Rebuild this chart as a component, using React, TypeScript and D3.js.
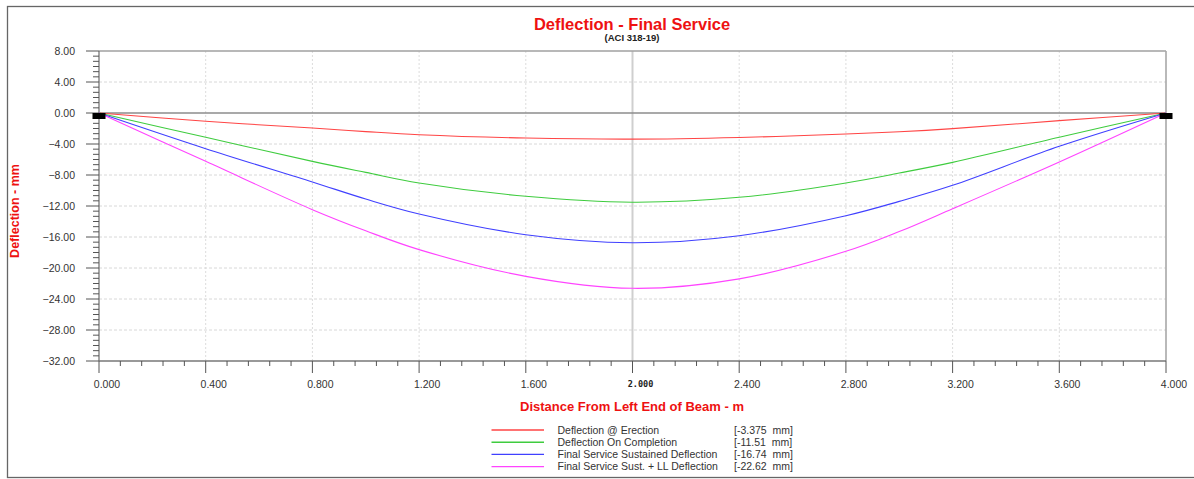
import React from 'react';
import * as d3 from 'd3';

// ---- Data ----
const distances = [0, 0.4, 0.8, 1.0, 1.2, 1.6, 2.0, 2.4, 2.8, 3.0, 3.2, 3.6, 4.0];
const erection = [0, -1.07, -1.94, -2.40, -2.80, -3.23, -3.375, -3.16, -2.71, -2.42, -2.02, -0.99, 0];
const completion = [0, -3.14, -6.24, -7.66, -9.03, -10.75, -11.51, -10.88, -9.03, -7.75, -6.37, -3.13, 0];
const sustained = [0, -4.6, -8.9, -11.1, -13.03, -15.7, -16.74, -15.83, -13.25, -11.4, -9.33, -4.3, 0];
const sustainedLL = [0, -6.24, -12.47, -15.2, -17.63, -21.08, -22.62, -21.4, -17.85, -15.3, -12.35, -6.32, 0];

const seriesNames = [
  'Deflection @ Erection',
  'Deflection On Completion',
  'Final Service Sustained Deflection',
  'Final Service Sust. + LL Deflection',
];
const seriesMaxLabels = ['[-3.375  mm]', '[-11.51  mm]', '[-16.74  mm]', '[-22.62  mm]'];
const seriesColors = ['#ff4545', '#3fcc3f', '#4040ff', '#ff44ff'];

const yTicks = [8, 4, 0, -4, -8, -12, -16, -20, -24, -28, -32];
const xTicks = [0, 0.4, 0.8, 1.2, 1.6, 2.0, 2.4, 2.8, 3.2, 3.6, 4.0];

const FONT = "'Liberation Sans', Arial, sans-serif";

export default function App() {
  const W = 1194;
  const H = 479;
  const left = 99, right = 1166, top = 51, bottom = 361;
  const x = d3.scaleLinear().domain([0, 4]).range([left, right]);
  const y = d3.scaleLinear().domain([-32, 8]).range([bottom, top]);

  const allSeries = [erection, completion, sustained, sustainedLL];
  const line = d3
    .line<number>()
    .x((_, i) => x(distances[i]))
    .y((d) => y(d))
    .curve(d3.curveCatmullRom.alpha(0.5));

  // minor ticks
  const xMinor: number[] = [];
  for (let i = 0; i <= 50; i++) {
    const v = i * 0.08;
    if (i % 5 !== 0) xMinor.push(v);
  }
  const yMinor: number[] = [];
  for (let k = 0; k < yTicks.length - 1; k++) {
    const a = yTicks[k], b = yTicks[k + 1];
    for (let j = 1; j < 6; j++) yMinor.push(a + ((b - a) * j) / 6);
  }

  return (
    <svg
      width={W}
      height={H}
      style={{ position: 'absolute', left: 0, top: 0, background: '#fff' }}
      fontFamily={FONT}
    >
      <rect x={0} y={0} width={W} height={H} fill="#fff" />
      {/* outer frame */}
      <rect x={7.5} y={6.5} width={1200} height={471} fill="none" stroke="#666" strokeWidth={1.3} />

      {/* title */}
      <text x={632} y={30} textAnchor="middle" fill="#ee1111" fontSize={16.5} fontWeight="bold">
        Deflection - Final Service
      </text>
      <text x={632} y={40.5} textAnchor="middle" fill="#222" fontSize={9.5} fontWeight="bold">
        (ACI 318-19)
      </text>

      {/* grid */}
      {yTicks.filter((t) => t !== 0 && t !== 8 && t !== -32).map((t) => (
        <line key={'gy' + t} x1={left} x2={right} y1={y(t)} y2={y(t)} stroke="#d8d8d8" strokeWidth={1} strokeDasharray="3,2" />
      ))}
      {xTicks.filter((t) => t !== 0 && t !== 4 && t !== 2).map((t) => (
        <line key={'gx' + t} x1={x(t)} x2={x(t)} y1={top} y2={bottom} stroke="#dcdcdc" strokeWidth={1} strokeDasharray="2,2" />
      ))}
      {/* mid-span line */}
      <line x1={x(2)} x2={x(2)} y1={top} y2={bottom} stroke="#cfcfcf" strokeWidth={2} />
      {/* zero line */}
      <line x1={left} x2={right} y1={y(0)} y2={y(0)} stroke="#8c8c8c" strokeWidth={1.3} />

      {/* plot border */}
      <line x1={left} x2={right} y1={top} y2={top} stroke="#a0a0a0" strokeWidth={1.3} />
      <line x1={right} x2={right} y1={top} y2={bottom} stroke="#a8a8a8" strokeWidth={1.6} />
      <line x1={left} x2={left} y1={top} y2={bottom} stroke="#777" strokeWidth={1.3} />
      <line x1={left} x2={right} y1={bottom} y2={bottom} stroke="#777" strokeWidth={1.3} />

      {/* y ticks */}
      {yTicks.map((t) => (
        <g key={'yt' + t}>
          <line x1={left - 13} x2={left} y1={y(t)} y2={y(t)} stroke="#555" strokeWidth={1} />
          <text x={75} y={y(t)} dy="0.35em" textAnchor="end" fontSize={10.5} fill="#333">
            {d3.format('.2f')(t)}
          </text>
        </g>
      ))}
      {yMinor.map((t, i) => (
        <line key={'ym' + i} x1={left - 6} x2={left} y1={y(t)} y2={y(t)} stroke="#555" strokeWidth={1} />
      ))}

      {/* x ticks */}
      {xTicks.map((t) => (
        <g key={'xt' + t}>
          <line x1={x(t)} x2={x(t)} y1={bottom} y2={bottom + 12} stroke="#555" strokeWidth={1} />
          {t === 2 ? (
            <text x={x(t) + 8} y={384} dy="0.35em" textAnchor="middle" fontSize={8.5} fontWeight="bold" fill="#222" fontFamily="'DejaVu Sans Mono', monospace">
              {d3.format('.3f')(t)}
            </text>
          ) : (
            <text x={x(t) + 8} y={384} dy="0.35em" textAnchor="middle" fontSize={10.5} fill="#333">
              {d3.format('.3f')(t)}
            </text>
          )}
        </g>
      ))}
      {xMinor.map((t, i) => (
        <line key={'xm' + i} x1={x(t)} x2={x(t)} y1={bottom} y2={bottom + 5} stroke="#555" strokeWidth={1} />
      ))}

      {/* axis titles */}
      <text x={632} y={411} textAnchor="middle" fill="#ee1111" fontSize={13} fontWeight="bold">
        Distance From Left End of Beam - m
      </text>
      <text
        transform={`translate(19, 211) rotate(-90)`}
        textAnchor="middle"
        fill="#ee1111"
        fontSize={12.5}
        fontWeight="bold"
      >
        Deflection - mm
      </text>

      {/* series */}
      {allSeries.map((s, i) => (
        <path key={'s' + i} d={line(s) || ''} fill="none" stroke={seriesColors[i]} strokeWidth={1.1} />
      ))}

      {/* supports */}
      <rect x={x(0) - 6.5} y={y(0)} width={13} height={6} fill="#000" />
      <rect x={x(4) - 6.5} y={y(0)} width={13} height={6} fill="#000" />

      {/* legend */}
      {seriesNames.map((n, i) => {
        const ly = 430 + i * 12.2;
        return (
          <g key={'lg' + i}>
            <line x1={491.5} x2={544} y1={ly} y2={ly} stroke={seriesColors[i]} strokeWidth={1.4} />
            <text x={557.5} y={ly} dy="0.35em" fontSize={10.5} fill="#333">
              {n}
            </text>
            <text x={734} y={ly} dy="0.35em" fontSize={10.5} fill="#333" style={{ whiteSpace: 'pre' }}>
              {seriesMaxLabels[i]}
            </text>
          </g>
        );
      })}
    </svg>
  );
}
